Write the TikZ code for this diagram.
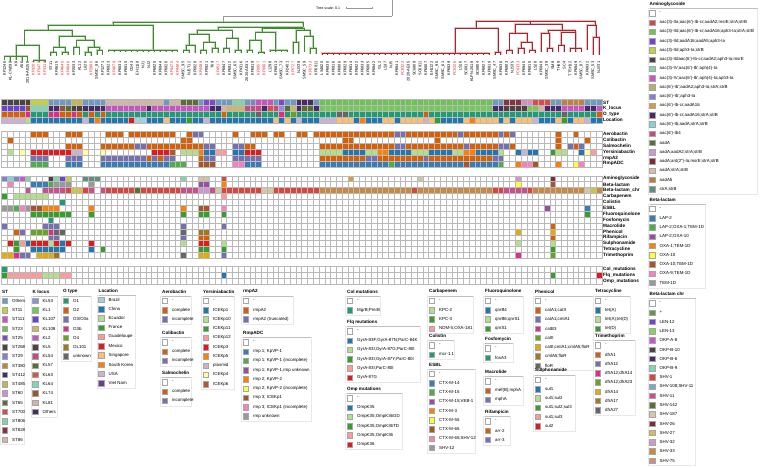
\documentclass[tikz,border=0pt]{standalone}
\usepackage{fontspec}
\setmainfont{Liberation Sans}

\definecolor{treegreen}{HTML}{3D8B2D}
\definecolor{treered}{HTML}{B0222A}
\definecolor{labred}{HTML}{E0282E}
% ST
\definecolor{stO}{HTML}{6B9AC4}\definecolor{st11}{HTML}{BFD33D}\definecolor{st111}{HTML}{CD4FC3}
\definecolor{st23}{HTML}{6CC450}\definecolor{st25}{HTML}{7D47D4}\definecolor{st268}{HTML}{4B4242}
\definecolor{st29}{HTML}{7B82D6}\definecolor{st380}{HTML}{C27F3E}\definecolor{st412}{HTML}{4A2A68}
\definecolor{st485}{HTML}{C7B54C}\definecolor{st60}{HTML}{D58DC4}\definecolor{st65}{HTML}{5A6F35}
\definecolor{st700}{HTML}{DC4A45}\definecolor{st806}{HTML}{7ED6A8}\definecolor{st828}{HTML}{8B3040}
\definecolor{st86}{HTML}{D1B5A5}
% K locus
\definecolor{kl53}{HTML}{8C90D8}\definecolor{kl1}{HTML}{75C85A}\definecolor{kl107}{HTML}{6C42D3}
\definecolor{kl108}{HTML}{CBB765}\definecolor{kl2}{HTML}{C953C6}\definecolor{kl5}{HTML}{4C4242}
\definecolor{kl54}{HTML}{C94A7E}\definecolor{kl57}{HTML}{55702F}\definecolor{kl63}{HTML}{DA533D}
\definecolor{kl64}{HTML}{80D6B3}\definecolor{kl74}{HTML}{9C5334}\definecolor{kl81}{HTML}{D5B3AC}
\definecolor{klO}{HTML}{4B2A6A}
% O type
\definecolor{oO1}{HTML}{1B9E77}\definecolor{oO2}{HTML}{D95F02}\definecolor{oO3}{HTML}{7570B3}
\definecolor{oO3b}{HTML}{E7298A}\definecolor{oO4}{HTML}{66A61E}\definecolor{oOL}{HTML}{A6761D}
\definecolor{oUnk}{HTML}{666666}
% location
\definecolor{bra}{HTML}{A6CEE3}\definecolor{chn}{HTML}{1F78B4}\definecolor{ecu}{HTML}{B2DF8A}
\definecolor{fra}{HTML}{33A02C}\definecolor{gua}{HTML}{FB9A99}\definecolor{mex}{HTML}{E31A1C}
\definecolor{sgp}{HTML}{FDBF6F}\definecolor{kor}{HTML}{FF7F00}\definecolor{usa}{HTML}{CAB2D6}
\definecolor{vnm}{HTML}{6A3D9A}
% shared palettes
\definecolor{dkO}{HTML}{D95F02}\definecolor{dkS}{HTML}{7570B3}\definecolor{dkM}{HTML}{E7298A}
\definecolor{dkG}{HTML}{66A61E}\definecolor{dkY}{HTML}{E6AB02}\definecolor{dkB}{HTML}{A6761D}
\definecolor{dkK}{HTML}{666666}\definecolor{dkT}{HTML}{1B9E77}
\definecolor{pB}{HTML}{1F78B4}\definecolor{pLG}{HTML}{B2DF8A}\definecolor{pG}{HTML}{33A02C}
\definecolor{pP}{HTML}{FB9A99}\definecolor{pR}{HTML}{E31A1C}\definecolor{pO}{HTML}{FF7F00}
\definecolor{pLi}{HTML}{CAB2D6}\definecolor{pY}{HTML}{FFFF99}\definecolor{pBr}{HTML}{B15928}
\definecolor{sB}{HTML}{377EB8}\definecolor{sG}{HTML}{4DAF4A}\definecolor{sPu}{HTML}{984EA3}
\definecolor{sO}{HTML}{FF7F00}\definecolor{sY}{HTML}{FFFF33}\definecolor{sBr}{HTML}{A65628}
\definecolor{sPi}{HTML}{F781BF}\definecolor{sK}{HTML}{999999}
% aminoglycoside
\definecolor{ag1}{HTML}{D9463E}\definecolor{ag2}{HTML}{6EC64D}\definecolor{ag3}{HTML}{6E44D6}
\definecolor{ag4}{HTML}{C3D13E}\definecolor{ag5}{HTML}{4B4141}\definecolor{ag6}{HTML}{7FD6A6}
\definecolor{ag7}{HTML}{CF52CF}\definecolor{ag8}{HTML}{B6B062}\definecolor{ag9}{HTML}{8080D6}
\definecolor{ag10}{HTML}{D99B3B}\definecolor{ag11}{HTML}{4A2A69}\definecolor{ag12}{HTML}{80D3CF}
\definecolor{ag13}{HTML}{CC4A7A}\definecolor{ag14}{HTML}{58722F}\definecolor{ag15}{HTML}{D296CC}
\definecolor{ag16}{HTML}{7E2C31}\definecolor{ag17}{HTML}{D0C3A8}\definecolor{ag18}{HTML}{B87C3F}
\definecolor{ag19}{HTML}{5F8D7F}
% beta-lactam chr
\definecolor{bcP}{HTML}{5F9B3F}\definecolor{bcL12}{HTML}{6E44D6}\definecolor{bcL13}{HTML}{7FD65A}
\definecolor{bcA8}{HTML}{CC52CF}\definecolor{bcB10}{HTML}{4B4141}\definecolor{bcB6}{HTML}{4A2A69}
\definecolor{bcB9}{HTML}{80D8B0}\definecolor{bcS1}{HTML}{D9463E}\definecolor{bcS108}{HTML}{79A8C9}
\definecolor{bcS11}{HTML}{C9508F}\definecolor{bcS142}{HTML}{58722F}\definecolor{bcS187}{HTML}{D1C9A3}
\definecolor{bcS26}{HTML}{7E2C31}\definecolor{bcS27}{HTML}{CBC44B}\definecolor{bcS32}{HTML}{CB9BCB}
\definecolor{bcS33}{HTML}{C98A40}\definecolor{bcS75}{HTML}{D08B82}

\tikzset{
  gline/.style={draw=treegreen, line width=0.55pt},
  ghalo/.style={draw=treegreen!35, line width=1.7pt},
  rline/.style={draw=treered, line width=0.55pt},
  rhalo/.style={draw=treered!30, line width=1.7pt},
  rootline/.style={draw=gray!80, line width=0.55pt},
  leaf/.style={rotate=90, anchor=east, inner sep=0pt, font=\fontsize{3.9}{4}\selectfont},
  gridline/.style={draw=gray!55, line width=0.3pt},
  rowlab/.style={anchor=west, inner sep=0pt, font=\fontsize{4.7}{5}\selectfont\bfseries},
  legtitle/.style={anchor=west, inner sep=0pt, font=\fontsize{4.6}{5}\selectfont\bfseries},
  legtext/.style={anchor=west, inner sep=0pt, font=\fontsize{4.4}{5}\selectfont},
  swatch/.style={draw=gray!70, line width=0.3pt, minimum size=5.6pt, inner sep=0pt},
  legrule/.style={draw=gray!50, line width=0.4pt},
  legbox/.style={draw=gray!18, line width=0.3pt},
}

\newcommand{\hgrid}[2]{%
  \draw[gridline] (1.6,#1) rectangle ({1.6+104*5.77},{#1+#2*5.9});
  \foreach \gx in {1,...,103} \draw[gridline] ({1.6+\gx*5.77},#1) -- ({1.6+\gx*5.77},{#1+#2*5.9});
  \foreach \gy in {1,...,#2} \draw[gridline] (1.6,{#1+\gy*5.9}) -- ({1.6+104*5.77},{#1+\gy*5.9});}

\newcommand{\hcells}[2]{%
  \foreach \rowi/\cfrom/\cto/\ccol in {#2}
    \fill[fill=\ccol] ({1.6+\cfrom*5.77},{#1+\rowi*5.9}) rectangle ({1.6+(\cto+1)*5.77},{#1+(\rowi+1)*5.9});}

\newcommand{\keyblock}[7]{%
  \draw[legbox] ({#2-1.5},{#3+4.2}) rectangle ({#2+#4},{#3+#5*9.25+5});
  \node[legtitle] (#1) at (#2,#3) {#6};
  \draw[legrule] (#2,{#3+4.2}) -- ({#2+#4},{#3+4.2});
  \foreach \cc/\lab [count=\n] in {#7} {
    \node[swatch, fill=\cc] (#1-\n) at ({#2+2.8},{#3+\n*9.25}) {};
    \node[legtext] (#1-t\n) at ({#2+10},{#3+\n*9.25}) {\lab};}}

\newcommand{\greentree}[1]{%
  \foreach \pn/\cn in {G/A,G/B,A/A1,A/A2,A1/A1a,A1/A1b,A1a/C1,A1a/C2,A1b/A1b1,A1b/A1b2,A1b1/C3,A1b1/C4,
    A1b2/C5,A1b2/C6,C6/C6a,C6/C6b,B/B1,B/B2,B1/B1a,B1/C10,B1a/C8,B1a/C9,C8/C8a,C9/C9a,C9/C9b,
    C10/C10a,C10/C10b,B2/B2a,B2/B2b,B2a/C11,B2a/C12,C11/C11a,C11/C11b,B2b/C13a,B2b/C13b,C13b/C13c,
    C1/l0,C1/l1,C1/l2,C1/l3,C1/l4,C2/l5,C2/l6,C2/l7,C3/l8,C3/l9,C4/l10,C4/l11,C5/l12,C5/l13,
    C6a/l14,C6a/l15,C6b/l16,C6b/l17,C8a/l31,C8a/l32,C8/l33,C9a/l34,C9a/l35,C9b/l36,C9b/l37,
    C10a/l38,C10a/l39,C10b/l40,C10b/l41,C11a/l42,C11a/l43,C11b/l44,C11b/l45,C13a/l50,C13a/l51,
    C13b/l52,C13c/l53,C13c/l54}
    \draw[#1] (\pn) -| (\cn);
  \foreach \li in {18,...,30} \draw[#1] (A2) -| (l\li);
  \foreach \li in {46,...,49} \draw[#1] (C12) -| (l\li);}

\newcommand{\redtree}[1]{%
  \foreach \pn/\cn in {Rd/RdA,Rd/RdC,Rd/RdD,RdA/R1,RdA/R2,RdC/RdC1,RdC/RdC2,RdC1/n1,RdC1/n2,
    n2/n2a,n2/n2b,RdC2/n3,RdC2/n4,n3/n3a,n4/n4a,n4/n4b,RdD/n5,
    R2/l85,R2/l86,n1/l87,n1/l88,n2a/l89,n2a/l90,n2b/l91,n2b/l92,n3/l93,n3a/l94,n3a/l95,
    n4a/l96,n4a/l97,n4b/l98,n4b/l99,n4b/l100,RdD/l101,n5/l102,n5/l103}
    \draw[#1] (\pn) -| (\cn);
  \foreach \li in {55,...,84} \draw[#1] (R1) -| (l\li);}

\begin{document}
\begin{tikzpicture}[x=1pt,y=-1pt]
\useasboundingbox (0,0) rectangle (760,468);
\fill[white] (0,0) rectangle (760,468);

% tree
\coordinate (stem) at (392,0);
\coordinate (root) at (392,16);
\foreach \nm/\nx/\ny in {G/223/22, A/113/25, A1/48/30, A1a/24.5/45, C1/16/56, C2/39.1/60,
    A1b/72/36, A1b1/59.3/47, C3/53.5/52, C4/65.1/52, A1b2/85.2/40, C5/76.6/47, C6/94/47,
    C6a/88.2/52, C6b/99.7/50, A2/153/50, B/303/27, B1/218/30, B1a/197/34, C8/189/45,
    C8a/186.3/50, C9/209/42, C9a/203.6/50, C9b/215.1/48, C10/232.4/38, C10a/226.6/48,
    C10b/238.2/50, B2/285/28, B2a/262/32, C11/255.5/40, C11a/249.7/50, C11b/261.3/52,
    C12/275.7/50, B2b/304/30, C13a/295.9/42, C13b/310.3/36, C13c/313.2/48,
    Rd/536/21, RdA/476/28, R1/455/53, R2/498/52, RdC/530/24, RdC1/515/33, n1/509.6/50,
    n2/527/42, n2a/521.1/48, n2b/532.3/50, RdC2/562/30, n3/548/33, n3a/549.7/48,
    n4/575/32, n4a/561.3/45, n4b/575.7/48, RdD/595/25, n5/596/37}
  \coordinate (\nm) at (\nx,\ny);
\foreach \li/\tip in {0/60,1/61,2/60,3/61,4/61,5/62,6/62,7/62,8/56,9/56,10/55,11/55,12/55,13/55,
    14/56,15/56,16/55,17/55,31/53,32/53,33/53,34/54,35/54,36/53,37/53,38/53,39/53,40/53,41/53,
    42/53,43/53,44/54,45/54,46/52,47/52,48/52,49/52,50/54,51/54,52/52,53/54,54/54,85/55,86/55,
    87/54,88/54,89/54,90/54,91/53,92/53,93/52,94/52,95/52,96/52,97/52,98/52,99/52,100/52,
    101/50,102/55,103/55}
  \coordinate (l\li) at ({4.5+5.77*\li},\tip);
\foreach \li in {18,...,30} \coordinate (l\li) at ({4.5+5.77*\li},52);
\foreach \li in {55,...,84} \coordinate (l\li) at ({4.5+5.77*\li},55);

\greentree{ghalo}
\redtree{rhalo}
\greentree{gline}
\redtree{rline}
\draw[rootline] (stem) -- (root);
\draw[rootline] (root) -| (G);

\node[anchor=west, inner sep=0pt, font=\fontsize{3.6}{4}\selectfont] (tscale) at (316,8) {Tree scale: 0.1};
\coordinate (sbL) at (346,8);
\coordinate (sbR) at (372,8);
\draw[rootline, line width=0.4pt] (sbL) -- (sbR);
\draw[rootline, line width=0.4pt] ([yshift=-1pt]sbL) -- ([yshift=1pt]sbL) ([yshift=-1pt]sbR) -- ([yshift=1pt]sbR);

\foreach \s/\k [count=\li from 0] in {KP1246/black, KL-CW298/black, K9/black, A56/black,
    2019-AE158/black, KP3203/labred, KP3470/labred, KP1318/labred, ST11/black, KP4615/black,
    KP4640/labred, KP4646/labred, KP2033/black, KL12/black, L620/black, KP2880/labred,
    SMSC\_86/black, KP1271/black, KP6823/black, KP4078/labred, KP6831/black, KP6815/black,
    CG43/black, EH1118/black, NJ1/black, NJ2/black, KP6820/black, KP6844/black, KP6826/black,
    KP4475/labred, KP4484/labred, SMSC\_95/black, NJST12/black, KP6828/black, KP4499/labred,
    KP0821/black, T69/black, KP4517/labred, KP6847/black, KP6812/black, SMSC\_65/black,
    KP4316/black, 2020-AE31/black, KP6819/black, KP3957/labred, KP3961/labred, L1298/black,
    KP6813/black, SMSC\_73/black, KP2401/black, KP5727/labred, NJST9/black, SMSC\_59/black,
    KP5733/labred, KP6811/black, LS4820/black, KP6830/black, KP6816/black, KP6806/black,
    KP6829/black, KP6814/black, KP6822/black, KP6833/black, KP6805/black, KP6842/black,
    GL2/black, LS37/black, NJ5/black, KP6841/black, FC6323/labred, 2020-AE35/black,
    SC6809/black, SC6811/black, KP6807/black, EH1122/black, SMSC\_90/black, SMSC\_61/black,
    KP6839/black, FC6326/labred, LS16/black, SC6817/black, KLPN-2018/black, SC6804/black,
    KP6827/black, KP6818/black, SMSC\_47/black, KP6836/black, KP6803/black, NJST5/black,
    FC6333/labred, KP6845/black, KP6810/black, LS28/black, KP6848/black, SMSC\_39/black,
    SM8/black, TH69/black, SC4/black, TTSH12/black, KP6849/black, SMSC\_87/black,
    KP6832/black, SMSC\_53/black, NJST1/black}
  \node[leaf, text=\k] (lab\li) at ({4.5+5.77*\li},61.5) {\s};

% heat map: typing
\hcells{99.5}{0/0/4/st268, 0/5/7/st11, 0/8/11/stO, 0/12/13/st485, 0/14/17/stO, 0/18/27/st86,
  0/28/28/stO, 0/29/30/st86, 0/31/33/st65, 0/34/34/stO, 0/35/36/st25, 0/37/39/stO, 0/40/41/st806,
  0/42/42/stO, 0/43/43/st29, 0/44/46/st111, 0/47/47/stO, 0/48/48/st25, 0/49/50/stO, 0/51/53/st412,
  0/54/54/stO, 0/55/84/st23, 0/85/86/stO, 0/87/89/st828, 0/90/91/st60, 0/92/94/st700, 0/95/96/stO,
  0/97/100/st380, 0/101/103/stO,
  1/0/3/kl107, 1/4/4/kl74, 1/5/7/kl64, 1/8/9/klO, 1/10/10/kl74, 1/11/11/kl57, 1/12/13/kl5,
  1/14/17/klO, 1/18/24/kl2, 1/25/25/klO, 1/26/35/kl2, 1/36/37/klO, 1/38/38/kl81, 1/39/41/kl108,
  1/42/44/kl54, 1/45/45/klO, 1/46/46/kl63, 1/47/47/kl54, 1/48/48/kl53, 1/49/49/kl57, 1/50/50/kl108,
  1/51/51/klO, 1/52/53/kl57, 1/54/54/klO, 1/55/84/kl1, 1/85/86/klO, 1/87/90/kl5, 1/91/92/kl1,
  1/93/93/kl81, 1/94/96/klO, 1/97/100/kl2, 1/101/102/klO, 1/103/103/kl2,
  2/0/3/oO2, 2/4/4/oO3b, 2/5/7/oO1, 2/8/9/oO3b, 2/10/11/oO2, 2/12/12/oO3b, 2/13/13/oO2, 2/14/14/oO1,
  2/15/15/oO2, 2/16/16/oO1, 2/17/17/oO2, 2/18/37/oO1, 2/38/38/oO2, 2/39/43/oO1, 2/44/44/oUnk,
  2/45/47/oO1, 2/48/48/oO3b, 2/49/49/oO1, 2/50/50/oO4, 2/51/57/oO1, 2/58/59/oUnk, 2/60/72/oO1,
  2/73/73/oO2, 2/74/96/oO1, 2/97/97/oUnk, 2/98/102/oO1, 2/103/103/oO2,
  3/0/3/usa, 3/4/4/ecu, 3/5/13/chn, 3/14/14/usa, 3/15/15/chn, 3/16/16/kor, 3/17/21/chn, 3/22/22/mex,
  3/23/24/bra, 3/25/27/chn, 3/28/28/sgp, 3/29/31/chn, 3/32/32/fra, 3/33/34/chn, 3/35/35/usa,
  3/36/46/chn, 3/47/47/sgp, 3/48/48/chn, 3/49/49/sgp, 3/50/50/chn, 3/51/51/usa, 3/52/54/chn,
  3/55/57/usa, 3/58/60/sgp, 3/61/61/chn, 3/62/62/kor, 3/63/65/chn, 3/66/67/sgp, 3/68/68/chn,
  3/69/72/sgp, 3/73/73/usa, 3/74/74/sgp, 3/75/75/fra, 3/76/79/chn, 3/80/80/sgp, 3/81/81/kor,
  3/82/85/sgp, 3/86/86/chn, 3/87/87/sgp, 3/88/88/chn, 3/89/91/sgp, 3/92/92/usa, 3/93/95/chn,
  3/96/96/sgp, 3/97/97/fra, 3/98/98/chn, 3/99/100/sgp, 3/101/101/usa, 3/102/103/chn}
\hgrid{99.5}{4}

% heat map: virulence
\hcells{131.3}{0/5/7/dkO, 0/11/13/dkO, 0/18/20/dkO, 0/22/29/dkO, 0/32/32/dkO, 0/33/34/dkS,
  0/40/40/dkO, 0/43/45/dkO, 0/47/48/dkO, 0/51/52/dkO, 0/54/67/dkO, 0/68/69/dkS, 0/70/78/dkO,
  0/79/79/dkS, 0/80/85/dkO, 0/86/86/dkS, 0/87/87/dkO, 0/88/88/dkS, 0/96/96/dkO, 0/99/99/dkO,
  1/1/1/dkO, 1/31/32/dkO, 1/59/60/dkO, 1/75/75/dkO, 1/96/96/dkO, 1/101/101/dkO,
  2/11/13/dkO, 2/17/22/dkO, 2/23/24/dkS, 2/25/34/dkO, 2/35/36/dkS, 2/40/41/dkS, 2/42/43/dkO,
  2/55/67/dkO, 2/68/69/dkS, 2/70/79/dkO, 2/80/80/dkS, 2/81/85/dkO, 2/86/87/dkS, 2/88/88/dkO,
  2/96/96/dkO, 2/98/98/dkS, 2/99/99/dkO, 2/100/100/dkS,
  3/1/1/pLG, 3/3/3/pY, 3/5/11/pR, 3/12/13/pLi, 3/14/14/pY, 3/17/17/pY, 3/26/28/pR, 3/29/29/pBr,
  3/31/33/pLG, 3/34/34/pO, 3/35/36/pB, 3/37/38/pP, 3/40/41/pB, 3/42/44/pR, 3/55/58/pLG,
  3/59/62/pB, 3/63/64/pLG, 3/65/66/pO, 3/67/70/pB, 3/71/73/pLG, 3/74/77/pB, 3/78/79/pLG,
  3/80/81/pO, 3/82/85/pB, 3/86/86/pLG, 3/89/89/pB, 3/90/90/pLi, 3/91/92/pB, 3/95/95/pG,
  3/96/97/pLG, 3/100/100/pB, 3/101/101/pY, 3/102/102/pP,
  4/5/7/dkS, 4/11/13/dkS, 4/17/24/dkS, 4/25/25/dkO, 4/26/26/dkS, 4/27/27/dkO, 4/28/29/dkS,
  4/34/34/dkO, 4/35/36/dkS, 4/40/44/dkS, 4/55/62/dkO, 4/63/64/dkS, 4/65/72/dkO, 4/73/73/dkS,
  4/74/84/dkO, 4/85/86/dkS,
  5/5/7/sG, 5/11/13/sB, 5/17/28/sB, 5/29/31/sG, 5/34/36/sBr, 5/40/41/sPi, 5/42/44/sB, 5/55/66/sB,
  5/67/67/sG, 5/68/79/sB, 5/80/80/sBr, 5/81/85/sB, 5/86/86/sG, 5/89/89/sO, 5/90/91/sPi,
  5/92/92/sBr, 5/96/96/sO, 5/99/99/sY, 5/100/100/sPi}
\hgrid{131.3}{6}

% heat map: resistance
\hcells{175.7}{0/0/0/ag9, 0/1/1/ag12, 0/2/2/ag9, 0/3/3/ag7, 0/4/4/ag6, 0/8/8/ag5, 0/9/9/ag6,
  0/10/10/ag3, 0/11/11/ag4, 0/14/16/ag19, 0/31/31/ag6, 0/34/35/ag17, 0/38/38/ag1, 0/60/60/ag10,
  0/72/72/ag17, 0/89/89/ag15, 0/95/95/ag16,
  1/1/1/sPi, 1/5/7/sB, 1/8/8/sG, 1/9/11/sK, 1/15/15/sK, 1/34/35/sPu, 1/38/38/sO, 1/89/89/sY,
  1/95/95/sBr,
  2/4/4/bcS11, 2/7/10/bcS11, 2/11/11/bcS1, 2/12/13/bcS27, 2/14/14/bcS1, 2/15/15/bcS11,
  2/17/17/bcS11, 2/18/22/bcS1, 2/23/23/bcS142, 2/24/30/bcS1, 2/31/33/bcS11, 2/34/35/bcS32,
  2/36/36/bcS11, 2/37/37/bcS187, 2/38/44/bcS1, 2/45/46/bcS187, 2/47/54/bcS1, 2/55/70/bcS33,
  2/71/71/bcS1, 2/72/84/bcS33, 2/85/86/bcS1, 2/87/90/bcS11, 2/91/91/bcS1, 2/92/100/bcS33,
  2/101/101/bcS187, 2/102/102/bcS27, 2/103/103/bcS33,
  3/0/0/pG, 3/2/7/pLG, 3/38/38/pP,
  4/10/10/dkT,
  5/0/1/sK, 5/2/2/sG, 5/3/3/sPi, 5/4/4/sK, 5/5/6/sBr, 5/7/9/sO, 5/15/15/sO, 5/31/31/sO,
  5/34/35/sBr, 5/38/38/sPi, 5/94/94/sPu, 5/101/101/sB,
  6/5/11/pG, 6/15/15/pG, 6/31/31/pG, 6/34/35/pG, 6/38/38/pG, 6/101/101/pG,
  7/8/8/dkT,
  8/0/0/dkS, 8/7/9/dkS, 8/31/31/dkS, 8/38/38/dkS, 8/95/95/dkO,
  9/2/2/dkO, 9/3/3/dkS, 9/5/7/dkG, 9/8/8/dkM, 9/9/10/dkK, 9/31/31/dkK, 9/34/35/dkB, 9/89/89/dkY,
  9/95/95/dkY,
  10/8/9/dkS, 10/31/31/dkS, 10/34/35/dkO, 10/95/95/dkO,
  11/1/1/pR, 11/2/2/pG, 11/3/3/pP, 11/4/4/pB, 11/5/7/pR, 11/8/8/pLG, 11/9/9/pR, 11/10/10/pB,
  11/11/11/pR, 11/15/15/pR, 11/31/31/pLG, 11/34/35/pR, 11/38/38/pLG, 11/89/89/pLG, 11/95/95/pLG,
  12/2/2/pG, 12/5/10/pB, 12/15/15/pB, 12/17/17/pG, 12/34/35/pG, 12/38/38/pG, 12/95/95/pG,
  13/0/1/dkY, 13/2/2/dkM, 13/3/4/dkS, 13/6/8/dkY, 13/9/9/dkB, 13/31/31/dkK, 13/34/35/dkY,
  13/38/38/dkS, 13/89/89/dkM, 13/95/95/dkG}
\hgrid{175.7}{14}

% heat map: mutations
\hcells{266.5}{0/0/0/dkT, 1/0/0/pG, 1/1/6/pP, 1/7/9/pLG, 1/10/11/pP, 1/38/38/pB, 1/95/95/pG,
  1/103/103/pR}
\hgrid{266.5}{3}

\foreach \lab [count=\n from 0] in {ST,K\_locus,O\_type,Location}
  \node[rowlab] (rA\n) at (603,{102.45+\n*5.9}) {\lab};
\foreach \lab [count=\n from 0] in {Aerobactin,Colibactin,Salmochelin,Yersiniabactin,rmpA2,RmpADC}
  \node[rowlab] (rB\n) at (603,{134.25+\n*5.9}) {\lab};
\foreach \lab [count=\n from 0] in {Aminoglycoside,Beta-lactam,Beta-lactam\_chr,Carbapenem,Colistin,
    ESBL,Fluoroquinolone,Fosfomycin,Macrolide,Phenicol,Rifampicin,Sulphonamide,Tetracycline,Trimethoprim}
  \node[rowlab] (rC\n) at (603,{178.65+\n*5.9}) {\lab};
\foreach \lab [count=\n from 0] in {Col\_mutations,Flq\_mutations,Omp\_mutations}
  \node[rowlab] (rD\n) at (603,{269.45+\n*5.9}) {\lab};

% legends
\keyblock{kST}{2}{291.5}{22}{16}{ST}{stO/Others, st11/ST11, st111/ST111, st23/ST23, st25/ST25,
  st268/ST268, st29/ST29, st380/ST380, st412/ST412, st485/ST485, st60/ST60, st65/ST65,
  st700/ST700, st806/ST806, st828/ST828, st86/ST86}
\keyblock{kKL}{32.5}{291.5}{25}{13}{K locus}{kl53/KL53, kl1/KL1, kl107/KL107, kl108/KL108,
  kl2/KL2, kl5/KL5, kl54/KL54, kl57/KL57, kl63/KL63, kl64/KL64, kl74/KL74, kl81/KL81, klO/Others}
\keyblock{kO}{63}{291.5}{28}{7}{O type}{oO1/O1, oO2/O2, oO3/{O3/O3a}, oO3b/O3b, oO4/O4,
  oOL/OL101, oUnk/unknown}
\keyblock{kLoc}{98.5}{290.5}{37}{10}{Location}{bra/Brazil, chn/China, ecu/Ecuador, fra/France,
  gua/Guadeloupe, mex/Mexico, sgp/Singapore, kor/South Korea, usa/USA, vnm/Viet Nam}
\keyblock{kAero}{162}{291.5}{29}{3}{Aerobactin}{white/-, dkO/complete, dkS/incomplete}
\keyblock{kColi}{162}{333}{29}{3}{Colibactin}{white/-, dkO/complete, dkS/incomplete}
\keyblock{kSalm}{162}{373}{29}{3}{Salmochelin}{white/-, dkO/complete, dkS/incomplete}
\keyblock{kYbt}{203}{291.5}{31}{10}{Yersiniabactin}{white/-, pB/ICEKp1, pLG/ICEKp10, pG/ICEKp11,
  pP/ICEKp12, pR/ICEKp3, pO/ICEKp5, pLi/plasmid, pY/ICEKp4, pBr/ICEKp6}
\keyblock{kRmpA}{243}{291.5}{50}{3}{rmpA2}{white/-, dkO/rmpA2, dkS/rmpA2 (truncated)}
\keyblock{kRmp}{243}{333}{68}{9}{RmpADC}{white/-, sB/rmp 1; KpVP-1, sG/rmp 1; KpVP-1 (incomplete),
  sPu/{rmp 1; KpVP-1,rmp unknown}, sO/rmp 2; KpVP-2, sY/rmp 2; KpVP-2 (incomplete),
  sBr/rmp 3; ICEKp1, sPi/rmp 3; ICEKp1 (incomplete), sK/rmp unknown}
\keyblock{kCol}{347}{291.5}{33}{2}{Col mutations}{white/-, dkT/MgrB;PmrB}
\keyblock{kFlq}{347}{322}{73}{6}{Flq mutations}{white/-, pB/GyrA-83F;GyrA-87N;ParC-84K,
  pLG/GyrA-83I;GyrA-87G;ParC-80I, pG/GyrA-83I;GyrA-87Y;ParC-80I, pP/GyrA-83I;ParC-80I, pR/GyrA-87G}
\keyblock{kOmp}{347}{389}{55}{6}{Omp mutations}{white/-, pB/OmpK35, pLG/OmpK35;OmpK36GD,
  pG/OmpK35;OmpK36TD, pP/OmpK35;OmpK36, pR/OmpK36}
\keyblock{kCarb}{429}{291.5}{44}{4}{Carbapenem}{white/-, pLG/KPC-2, pG/KPC-3, pP/NDM-5;OXA-181}
\keyblock{kCst}{429}{336}{25}{2}{Colistin}{white/-, dkT/mcr-1.1}
\keyblock{kEsbl}{429}{364.5}{46}{9}{ESBL}{white/-, sB/CTX-M-14, sG/CTX-M-15, sPu/CTX-M-15;VEB-1,
  sO/CTX-M-3, sY/CTX-M-55, sBr/CTX-M-65, sPi/CTX-M-65;SHV-12, sK/SHV-12}
\keyblock{kFlu}{485}{291.5}{38}{4}{Fluoroquinolone}{white/-, pB/qnrB4, pLG/qnrB6;qnrS1, pG/qnrS1}
\keyblock{kFos}{485}{339}{28}{2}{Fosfomycin}{white/-, dkT/fosA3}
\keyblock{kMac}{485}{372}{38}{3}{Macrolide}{white/-, dkO/mef(B);mphA, dkS/mphA}
\keyblock{kRif}{485}{412}{25}{3}{Rifampicin}{white/-, dkO/arr-2, dkS/arr-3}
\keyblock{kPhe}{535}{291.5}{58}{8}{Phenicol}{white/-, dkO/catA1;catII, dkS/catA1;cmlA1, dkM/catB3,
  dkG/catII, dkY/catII;cmlA1;cmlA5;floR, dkB/cmlA5;floR, dkK/floR}
\keyblock{kSul}{535}{370.5}{40}{6}{Sulphonamide}{white/-, pB/sul1, pLG/sul1;sul2, pG/sul1;sul2;sul3,
  pP/sul1;sul3, pR/sul2}
\keyblock{kTet}{595}{291.5}{35}{4}{Tetracycline}{white/-, pB/tet(A), pLG/tet(A);tet(D), pG/tet(D)}
\keyblock{kTmp}{595}{336}{40}{8}{Trimethoprim}{white/-, dkO/dfrA1, dkS/dfrA12, dkM/dfrA12;dfrA14,
  dkG/dfrA12;dfrA23, dkY/dfrA14, dkB/dfrA17, dkK/dfrA27}
\keyblock{kAmg}{649.5}{4}{108}{20}{Aminoglycoside}{white/-,
  ag1/aac(3)-IIa;aac(6')-Ib-cr;aadA2;msrE;strA;strB,
  ag2/aac(3)-IId;aac(6')-Ib-cr;aadA16;aph3-Ia;strA;strB,
  ag3/aac(3)-IId;aadA16;aadA5;aph3-Ia, ag4/aac(3)-IId;aph3-Ia;strB,
  ag5/aac(3)-IIdaac(6')-Ib-cr;aadA2;aph3-Ia;msrE, ag6/aac(3)-IV;aac(6')-Ib';aph(4)-Ia,
  ag7/aac(3)-IV;aac(6')-Ib';aph(4)-Ia;aph3-Ia, ag8/aac(6')-Ib';aadA2;aph3-Ia;strA;strB,
  ag9/aac(6')-Ib';aph3-Ia, ag10/aac(6')-Ib-cr;aadA16, ag11/aac(6')-Ib-cr;aadA16;strA;strB,
  ag12/aac(6')-Ib;aadA;strA;strB, ag13/aac(6')-Ib4, ag14/aadA, ag15/aadA;aadA2;strA;strB,
  ag16/aadA;ant(2")-Ia;msrE;strA;strB, ag17/aadA;strA;strB, ag18/aadA5, ag19/strA;strB}
\keyblock{kBl}{649.5}{199.5}{56}{9}{Beta-lactam}{white/-, sB/LAP-2, sG/LAP-2;OXA-1;TEM-1D,
  sPu/LAP-2;OXA-10, sO/OXA-1;TEM-1D, sY/OXA-10, sBr/OXA-10;TEM-1D, sPi/OXA-9;TEM-1D, sK/TEM-1D}
\keyblock{kBlc}{649.5}{294}{46}{18}{Beta-lactam chr}{white/-, bcP/+, bcL12/LEN-12, bcL13/LEN-13,
  bcA8/OKP-A-8, bcB10/OKP-B-10, bcB6/OKP-B-6, bcB9/OKP-B-9, bcS1/SHV-1, bcS108/SHV-108;SHV-11,
  bcS11/SHV-11, bcS142/SHV-142, bcS187/SHV-187, bcS26/SHV-26, bcS27/SHV-27, bcS32/SHV-32,
  bcS33/SHV-33, bcS75/SHV-75}
\end{tikzpicture}
\end{document}
